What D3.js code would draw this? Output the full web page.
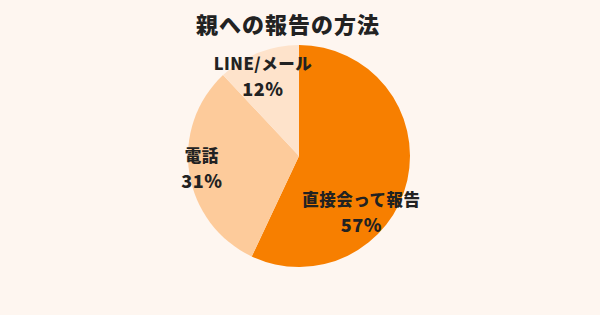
<!DOCTYPE html>
<html>
<head>
<meta charset="utf-8">
<script src="https://cdn.jsdelivr.net/npm/d3@7"></script>
<style>
  html, body { margin: 0; padding: 0; background: #fef6f0; }
  svg { display: block; }
  text { font-family: "Noto Sans CJK JP", "Noto Sans", sans-serif; fill: #222; }
</style>
</head>
<body>
<div id="chart"></div>
<script>
const title = "親への報告の方法";
const categories = ["直接会って報告", "電話", "LINE/メール"];
const shares = [57, 31, 12];

const width = 600, height = 315;
const cx = 299, cy = 156, radius = 111;
const colors = ["#f77f00", "#fdcb9b", "#fee3cb"];
// where each label sits (degrees clockwise from top, distance from centre)
const labelPos = [{a: 132, r: 84}, {a: 262.7, r: 98}, {a: 335.5, r: 87}];

const data = categories.map(function(c, i) { return {label: c, value: shares[i]}; });

const svg = d3.select("#chart").append("svg")
    .attr("width", width)
    .attr("height", height);

svg.append("rect").attr("width", width).attr("height", height).attr("fill", "#fef6f0");

svg.append("text")
    .attr("x", 288)
    .attr("y", 33)
    .attr("text-anchor", "middle")
    .style("font-size", "22px")
    .style("font-weight", "900")
    .style("letter-spacing", "1px")
    .text(title);

const pie = d3.pie().sort(null).value(function(d) { return d.value; });
const arc = d3.arc().innerRadius(0).outerRadius(radius);

const g = svg.append("g").attr("transform", "translate(" + cx + "," + cy + ")");

g.selectAll(".slice")
    .data(pie(data))
    .enter().append("path")
    .attr("class", "slice")
    .attr("d", arc)
    .attr("fill", function(d, i) { return colors[i]; });

const labels = g.selectAll(".lbl")
    .data(pie(data))
    .enter().append("g")
    .attr("class", "lbl")
    .attr("transform", function(d, i) {
        const p = labelPos[i];
        const t = p.a * Math.PI / 180;
        return "translate(" + (p.r * Math.sin(t)) + "," + (-p.r * Math.cos(t)) + ")";
    });

labels.append("text")
    .attr("text-anchor", "middle")
    .attr("y", -6.5)
    .style("font-size", "16.5px")
    .style("font-weight", "900")
    .style("letter-spacing", "0.5px")
    .text(function(d) { return d.data.label; });

labels.append("text")
    .attr("text-anchor", "middle")
    .attr("y", 19.5)
    .style("font-size", "18px")
    .style("font-weight", "900")
    .style("letter-spacing", "0.5px")
    .text(function(d) { return d.data.value + "%"; });
</script>
</body>
</html>
